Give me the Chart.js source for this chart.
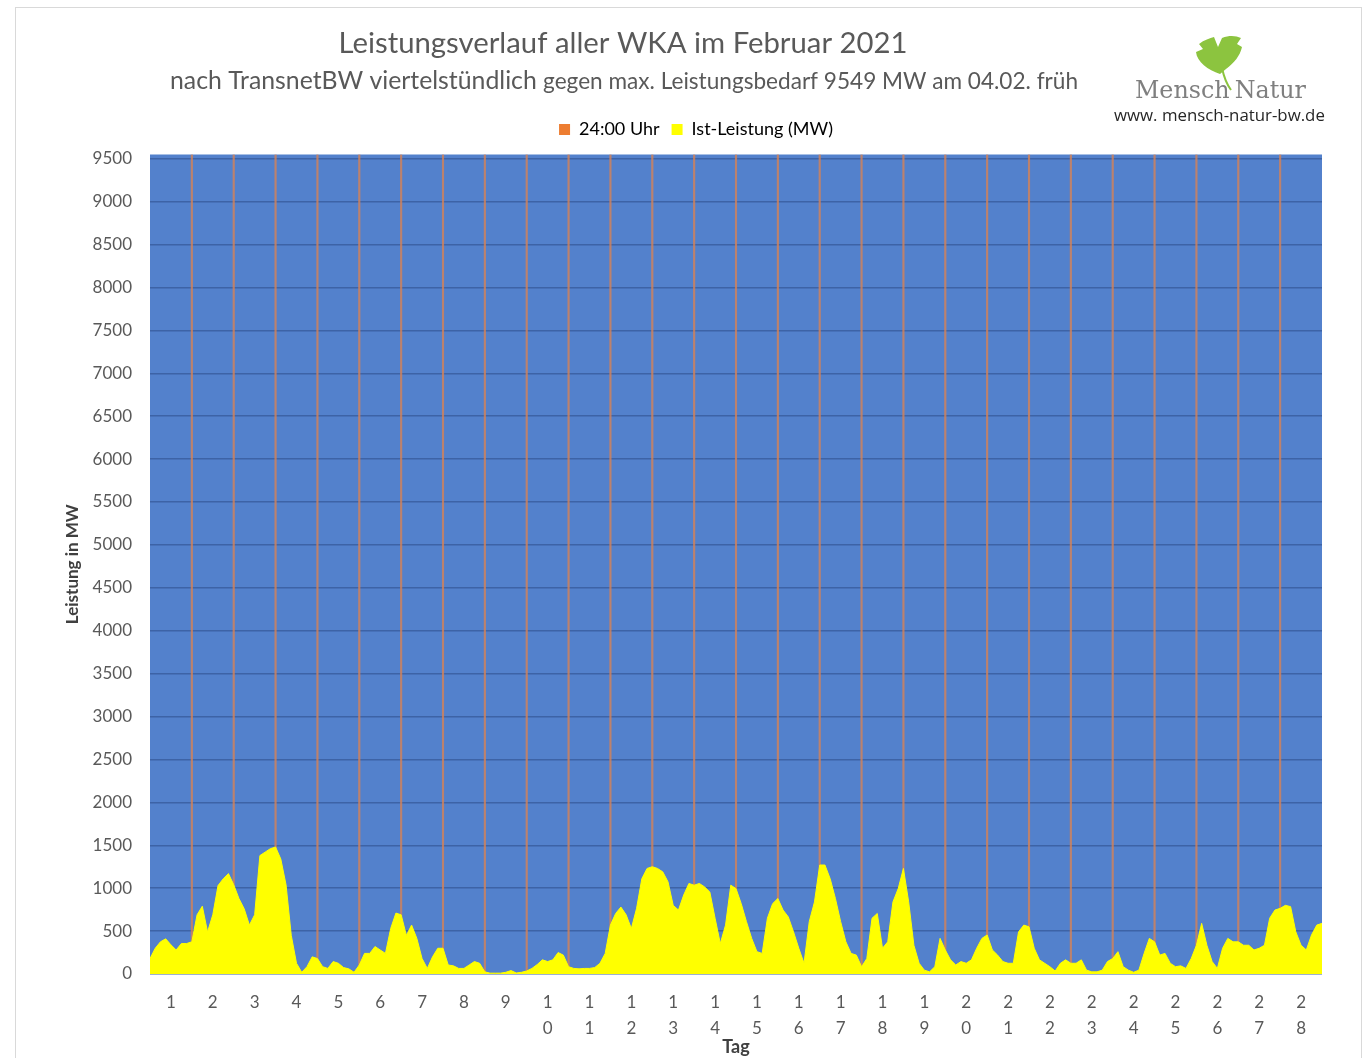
<!DOCTYPE html>
<html lang="de">
<head>
<meta charset="utf-8">
<title>Leistungsverlauf aller WKA im Februar 2021</title>
<script src="https://cdn.jsdelivr.net/npm/chart.js@4"></script>
<style>
  html, body { margin: 0; padding: 0; background: #fff; overflow: hidden; }
  #rahmen { position: absolute; left: 15px; top: 7px; width: 1345px; height: 1050px; border: 1px solid #d9d9d9; }
  canvas { display: block; }
</style>
</head>
<body>
<div id="rahmen"><canvas id="chart" width="1345" height="1050"></canvas></div>
<script>
const woche1 = [
  180, 300, 375, 410, 340, 280, 355, 355,
  375, 690, 790, 490, 690, 1030, 1110, 1170,
  1040, 880, 760, 570, 690, 1380, 1420, 1460,
  1480, 1340, 1040, 450, 125, 20, 85, 200,
  180, 85, 65, 145, 125, 75, 60, 20,
  105, 240, 240, 320, 280, 240, 530, 710,
  690, 450, 570, 415, 180, 65, 200, 300,
];
const woche2 = [
  300, 105, 95, 65, 65, 105, 145, 125,
  25, 10, 10, 10, 20, 40, 12, 20,
  35, 65, 110, 165, 145, 165, 250, 220,
  85, 65, 60, 65, 65, 75, 125, 240,
  570, 705, 780, 690, 530, 765, 1110, 1230,
  1250, 1230, 1190, 1075, 800, 745, 920, 1055,
  1035, 1055, 1015, 955, 650, 355, 570, 1035,
];
const woche3 = [
  995, 820, 610, 415, 260, 240, 650, 820,
  880, 745, 665, 490, 300, 125, 610, 840,
  1270, 1270, 1110, 880, 610, 375, 240, 220,
  85, 180, 650, 705, 300, 375, 840, 995,
  1230, 840, 335, 125, 45, 25, 85, 415,
  280, 165, 105, 145, 125, 165, 300, 415,
  455, 280, 220, 145, 125, 125, 490, 570,
];
const woche4 = [
  550, 300, 165, 125, 85, 35, 125, 165,
  125, 125, 165, 45, 25, 25, 45, 145,
  180, 260, 85, 45, 20, 45, 240, 415,
  375, 220, 240, 125, 85, 95, 65, 180,
  335, 590, 335, 145, 65, 300, 415, 375,
  375, 335, 335, 280, 300, 335, 650, 745,
  765, 800, 785, 490, 335, 280, 455, 570,
];
const endwert = [590];

const tagLabels = [
  "1", "2", "3", "4", "5", "6", "7", "8", "9", "10", "11", "12", "13", "14",
  "15", "16", "17", "18", "19", "20", "21", "22", "23", "24", "25", "26", "27", "28",
];
const yTicks = [
  0, 500, 1000, 1500, 2000, 2500, 3000, 3500, 4000, 4500,
  5000, 5500, 6000, 6500, 7000, 7500, 8000, 8500, 9000, 9500,
];
const maxBedarf = 9549;

const TITEL = "Leistungsverlauf aller WKA im Februar 2021";
const UNTERTITEL_1 = "nach TransnetBW viertelstündlich";
const UNTERTITEL_2 = "gegen max. Leistungsbedarf 9549 MW am 04.02. früh";

const istLeistung = [...woche1, ...woche2, ...woche3, ...woche4, ...endwert];
const leistungPunkte = istLeistung.map((v, i) => ({ x: i * 3, y: v }));
const mitternacht = tagLabels.slice(1).map((t, i) => ({ x: (i + 1) * 24, y: maxBedarf }));

// canvas sits at page (16, 8)
const OX = 16;
const OY = 8;

const hintergrund = {
  id: "hintergrund",
  beforeDraw(chart) {
    const { ctx, chartArea } = chart;
    ctx.save();
    ctx.fillStyle = "#5381cc";
    ctx.fillRect(chartArea.left, chartArea.top, chartArea.right - chartArea.left, chartArea.bottom - chartArea.top);
    ctx.restore();
  },
};

// Legende sitzt im Original etwas rechts der Mitte
const legendeVersatz = {
  id: "legendeVersatz",
  afterLayout(chart) {
    if (chart.legend) {
      chart.legend.left += 27;
      chart.legend.right += 27;
    }
  },
};

const fitText = (ctx, text, family, baseSize, width) => {
  ctx.font = `${baseSize}px ${family}`;
  const size = baseSize * width / ctx.measureText(text).width;
  ctx.font = `${size}px ${family}`;
};

const kopf = {
  id: "kopf",
  afterDraw(chart) {
    const ctx = chart.ctx;
    ctx.save();
    ctx.translate(-OX, -OY);
    ctx.fillStyle = "#595959";
    ctx.textBaseline = "middle";
    ctx.textAlign = "center";
    ctx.font = "29.3px Lato";
    ctx.fillText(TITEL, 623, 44);

    ctx.textAlign = "left";
    ctx.font = "24.8px Lato";
    const w1 = ctx.measureText(UNTERTITEL_1 + " ").width;
    ctx.font = "22.6px Lato";
    const w2 = ctx.measureText(UNTERTITEL_2).width;
    const start = 624 - (w1 + w2) / 2;
    ctx.font = "24.8px Lato";
    ctx.fillText(UNTERTITEL_1 + " ", start, 81);
    ctx.font = "22.6px Lato";
    ctx.fillText(UNTERTITEL_2, start + w1, 82);

    // logo: ginkgo leaf
    ctx.fillStyle = "#8cc43f";
    ctx.beginPath();
    ctx.moveTo(1220, 74);
    ctx.bezierCurveTo(1208, 70, 1197, 62, 1196, 52);
    ctx.lineTo(1203, 49);
    ctx.lineTo(1199, 44);
    ctx.bezierCurveTo(1204, 40, 1210, 38, 1214, 37);
    ctx.lineTo(1218, 47);
    ctx.lineTo(1222, 38);
    ctx.bezierCurveTo(1230, 35, 1236, 36, 1241, 38);
    ctx.lineTo(1237, 44);
    ctx.lineTo(1242, 47);
    ctx.bezierCurveTo(1240, 56, 1234, 63, 1226, 69);
    ctx.closePath();
    ctx.fill();
    ctx.strokeStyle = "#8cc43f";
    ctx.lineWidth = 2;
    ctx.beginPath();
    ctx.moveTo(1222, 68);
    ctx.quadraticCurveTo(1225, 82, 1231, 90);
    ctx.stroke();

    ctx.fillStyle = "#7f7f7f";
    ctx.textBaseline = "alphabetic";
    fitText(ctx, "MenschNatur", "'DejaVu Serif'", 24, 166);
    ctx.fillText("Mensch", 1135, 98);
    ctx.textAlign = "right";
    ctx.fillText("Natur", 1306, 98);

    ctx.textAlign = "left";
    ctx.fillStyle = "#262626";
    ctx.textBaseline = "middle";
    fitText(ctx, "www. mensch-natur-bw.de", "'Open Sans'", 16, 211);
    ctx.fillText("www. mensch-natur-bw.de", 1114, 116);
    ctx.restore();
  },
};

new Chart(document.getElementById("chart"), {
  type: "line",
  data: {
    datasets: [
      {
        type: "bar",
        label: "24:00 Uhr",
        data: mitternacht,
        xAxisID: "x",
        yAxisID: "y",
        backgroundColor: "rgba(215, 130, 85, 0.8)",
        barThickness: 1.5,
        order: 2,
      },
      {
        label: "Ist-Leistung (MW)",
        data: leistungPunkte,
        xAxisID: "x",
        yAxisID: "y",
        borderColor: "#ffff00",
        backgroundColor: "#ffff00",
        borderWidth: 1,
        pointRadius: 0,
        fill: "origin",
        tension: 0,
        order: 1,
      },
    ],
  },
  plugins: [hintergrund, legendeVersatz, kopf],
  options: {
    responsive: false,
    devicePixelRatio: 1,
    animation: false,
    layout: { padding: { left: 0, right: 39, top: 100.5, bottom: 0 } },
    plugins: {
      title: { display: false },
      tooltip: { enabled: false },
      legend: {
        position: "top",
        labels: {
          color: "#595959",
          font: { family: "Lato", size: 18 },
          boxWidth: 11,
          boxHeight: 11,
          padding: 12,
          generateLabels: () => [
            { text: "24:00 Uhr", fillStyle: "#ed7d31", strokeStyle: "#ed7d31", lineWidth: 0, datasetIndex: 0 },
            { text: "Ist-Leistung (MW)", fillStyle: "#ffff00", strokeStyle: "#ffff00", lineWidth: 0, datasetIndex: 1 },
          ],
        },
      },
    },
    scales: {
      x: {
        type: "linear",
        min: 0,
        max: tagLabels.length * 24,
        offset: false,
        grid: { display: false },
        border: { display: false },
        afterBuildTicks: (scale) => {
          scale.ticks = tagLabels.map((t, i) => ({ value: i * 24 + 12 }));
        },
        afterFit: (scale) => { scale.height = 84; },
        ticks: {
          autoSkip: false,
          maxRotation: 0,
          padding: 8,
          color: "#595959",
          font: { family: "Lato", size: 17, lineHeight: 1.53 },
          callback: (value) => tagLabels[Math.round((value - 12) / 24)].split(""),
        },
        title: {
          display: true,
          text: "Tag",
          color: "#404040",
          font: { family: "Lato", size: 18, weight: "bold" },
          padding: { top: 0, bottom: 0 },
        },
      },
      // leerer Abstandhalter zwischen Legende und Diagrammfläche
      abstand: {
        type: "linear",
        axis: "x",
        position: "top",
        min: 0,
        max: 1,
        grid: { display: false, drawTicks: false },
        border: { display: false },
        ticks: { display: false },
        afterFit: (scale) => { scale.height = 6; },
      },
      y: {
        min: 0,
        max: maxBedarf,
        afterBuildTicks: (scale) => {
          scale.ticks = yTicks.map((v) => ({ value: v }));
        },
        afterFit: (scale) => { scale.width = 134; },
        grid: { color: "#3d63a6", lineWidth: 1.5, drawTicks: false },
        border: { display: false },
        ticks: {
          padding: 18,
          color: "#595959",
          font: { family: "Lato", size: 17 },
          callback: (value) => String(value),
        },
        title: {
          display: true,
          text: "Leistung in MW",
          color: "#404040",
          font: { family: "Lato", size: 17, weight: "bold" },
          padding: { top: 46, bottom: 0 },
        },
      },
    },
  },
});
</script>
</body>
</html>
